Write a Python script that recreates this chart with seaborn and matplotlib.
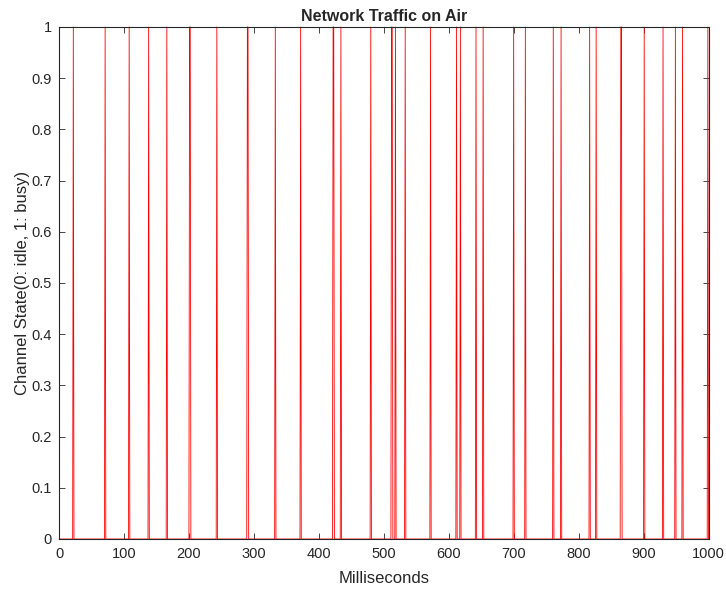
import numpy as np
import pandas as pd
import matplotlib
matplotlib.use("Agg")
import matplotlib.pyplot as plt
import seaborn as sns

# Busy periods on the channel: start time (ms) and duration (ms)
busy_start = [22, 71, 108, 138, 166, 201, 243, 290, 333, 372, 422, 434, 480,
              512, 518, 533, 572, 612, 618, 642, 653, 700, 718, 761, 773,
              817, 827, 865, 901, 930, 949, 960, 999]
busy_len = [1, 1, 1, 1, 1, 2, 1, 2, 1, 1, 2, 1, 1,
            2, 1, 1, 1, 1, 1, 1, 1, 1, 1, 1, 1,
            1, 1, 2, 1, 1, 1, 1, 1]

x_ticks = list(range(0, 1001, 100))
y_ticks = [0, 0.1, 0.2, 0.3, 0.4, 0.5, 0.6, 0.7, 0.8, 0.9, 1]
y_tick_labels = ["0", "0.1", "0.2", "0.3", "0.4", "0.5", "0.6", "0.7", "0.8", "0.9", "1"]

# Channel state sampled every millisecond
t = np.arange(0, 1001)
state = np.zeros_like(t, dtype=float)
for s, d in zip(busy_start, busy_len):
    state[s:s + d] = 1.0
df = pd.DataFrame({"Milliseconds": t, "State": state})

sns.set_theme(style="white")
plt.rcParams["font.family"] = ["Liberation Sans", "DejaVu Sans"]

fig = plt.figure(figsize=(7.26, 5.89), dpi=100)
ax = fig.add_axes([0.0813, 0.0849, 0.8946, 0.8693])

sns.lineplot(data=df, x="Milliseconds", y="State", ax=ax, color="#ff0000",
             linewidth=0.6, estimator=None, sort=False, clip_on=False)

ax.set_xlim(0, 1000)
ax.set_ylim(0, 1)
ax.set_xticks(x_ticks)
ax.set_xticklabels([str(v) for v in x_ticks])
ax.set_yticks(y_ticks)
ax.set_yticklabels(y_tick_labels)

ax.tick_params(direction="in", length=4, width=0.6, colors="#262626",
               labelsize=10.5, top=True, right=True, bottom=True, left=True)
ax.tick_params(axis="x", pad=6)
ax.tick_params(axis="y", pad=5)
for sp in ax.spines.values():
    sp.set_color("#262626")
    sp.set_linewidth(0.8)

ax.set_xlabel("Milliseconds", fontsize=12, color="#262626", labelpad=7)
ax.set_ylabel("Channel State(0: idle, 1: busy)", fontsize=12, color="#262626", labelpad=1)
ax.set_title("Network Traffic on Air", fontsize=11.5, fontweight="bold", pad=4)

fig.savefig("out.png", dpi=100, facecolor="white")
